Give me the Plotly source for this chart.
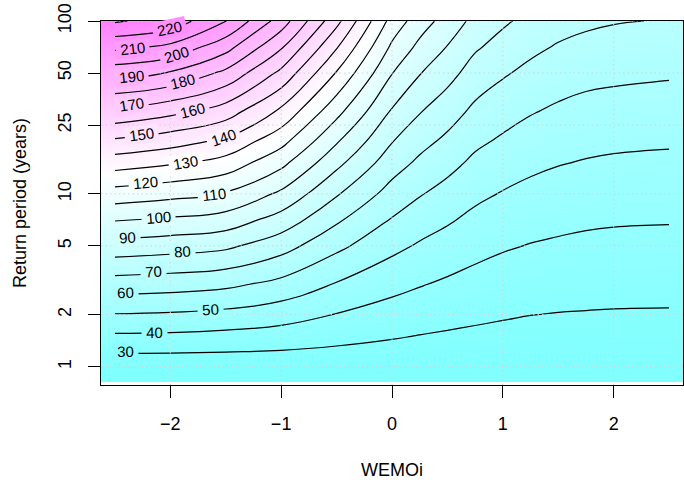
import numpy as np
import plotly.graph_objects as go

# Covariate grid (WEMOi index) and return periods (years)
wemoi = [-2.5, -2.0, -1.5, -1.0, -0.5, 0.0, 0.25, 0.5, 0.75, 1.0, 1.25, 1.5, 1.75, 2.0, 2.5]
return_period = [1, 1.5, 2, 3, 5, 7, 10, 15, 20, 30, 50, 70, 100]

# Return level table: one row per return period, one column per WEMOi value
return_level = [
    [23.3, 23.3, 23.4, 23.5, 23.6, 23.7, 23.6, 23.7, 23.6, 23.6, 23.5, 23.5, 23.4, 23.5, 23.5],
    [38.5, 38.2, 37.1, 35.6, 33.0, 30.7, 29.7, 28.9, 28.3, 27.8, 27.3, 27.1, 27.0, 26.9, 26.9],
    [49.5, 48.8, 47.2, 44.3, 39.6, 35.8, 34.2, 32.9, 31.7, 30.8, 30.1, 29.7, 29.5, 29.3, 29.2],
    [65.3, 64.2, 62.2, 57.1, 49.3, 43.1, 40.6, 38.5, 36.6, 35.2, 34.2, 33.7, 33.2, 33.0, 32.8],
    [86.1, 84.4, 82.0, 74.1, 62.4, 52.6, 48.9, 46.0, 43.1, 41.0, 39.6, 38.7, 38.0, 37.7, 37.4],
    [100.2, 98.1, 95.2, 85.6, 71.3, 59.1, 54.6, 51.0, 47.4, 45.1, 43.2, 42.2, 41.3, 40.8, 40.5],
    [115.8, 113.1, 109.4, 98.1, 81.0, 66.1, 60.7, 56.5, 52.2, 49.4, 47.3, 46.0, 45.1, 44.5, 44.0],
    [134.3, 130.8, 125.8, 112.5, 92.5, 74.4, 67.9, 63.0, 57.8, 54.7, 52.1, 50.4, 49.3, 48.6, 48.0],
    [147.9, 143.8, 137.7, 123.0, 100.8, 80.3, 73.1, 67.7, 61.9, 58.4, 55.6, 53.7, 52.5, 51.7, 51.0],
    [167.8, 162.8, 155.0, 138.0, 113.1, 89.0, 80.6, 74.5, 67.8, 64.0, 60.7, 58.4, 57.1, 56.2, 55.4],
    [194.1, 189.3, 177.7, 157.6, 129.3, 100.3, 90.5, 83.4, 75.7, 71.1, 67.5, 64.8, 62.7, 62.1, 61.1],
    [211.9, 207.1, 193.3, 170.8, 140.5, 108.0, 97.3, 89.4, 81.1, 76.3, 72.1, 69.0, 67.2, 66.2, 65.2],
    [231.1, 226.2, 210.3, 185.3, 153.0, 116.4, 104.7, 96.0, 87.2, 81.5, 77.2, 73.9, 71.8, 70.6, 69.5],
]

# Contour levels and where each label sits along its line (WEMOi units)
levels = list(range(30, 230, 10))
label_x = [-2.40, -2.14, -1.64, -2.40, -2.15, -1.89, -2.39, -2.11, -1.61, -2.22,
           -1.86, -1.52, -2.26, -1.80, -2.35, -1.89, -2.35, -1.94, -2.34, -2.01]

x_ticks = [-2, -1, 0, 1, 2]
y_ticks = [1, 2, 5, 10, 25, 50, 100]
y_ticktext = ["1", "2", "5", "10", "25", "50", "100"]

X_RANGE = [-2.625, 2.625]
Y_RANGE = [0.784, 100]
Z_MIN, Z_MAX = 23.0, 232.0
FONT = "Liberation Sans, Arial, Helvetica, sans-serif"

W, H = 684, 480
M = dict(l=101, r=1, t=21, b=95)
px_per_x = (W - M["l"] - M["r"]) / (X_RANGE[1] - X_RANGE[0])
px_per_dec = (H - M["t"] - M["b"]) / (np.log10(Y_RANGE[1]) - np.log10(Y_RANGE[0]))

# cm.colors style palette: cyan -> white -> magenta
cm_scale = [[0.0, "#80FFFF"], [0.5, "#FFFFFF"], [1.0, "#FF80FF"]]


def cm_color(z):
    t = min(max((z - Z_MIN) / (Z_MAX - Z_MIN), 0.0), 1.0)
    if t < 0.5:
        r = 128 + 127 * (t / 0.5)
        return "rgb(%d,255,255)" % round(r)
    g = 255 - 127 * ((t - 0.5) / 0.5)
    return "rgb(255,%d,255)" % round(g)


zt = np.array(return_level, dtype=float)
xs = np.array(wemoi, dtype=float)
ts = np.array(return_period, dtype=float)


def period_at(level, xv):
    col = np.array([np.interp(xv, xs, row) for row in zt])
    return float(np.interp(level, col, ts))


fig = go.Figure()

# colour image of the return level surface
fig.add_trace(go.Heatmap(
    x=wemoi, y=return_period, z=return_level,
    colorscale=cm_scale, zmin=Z_MIN, zmax=Z_MAX, zsmooth="best",
    showscale=False, hoverinfo="skip",
))

# contour lines on top
fig.add_trace(go.Contour(
    x=wemoi, y=return_period, z=return_level,
    contours=dict(start=30, end=230, size=10, coloring="none", showlabels=False),
    line=dict(color="black", width=1.2, smoothing=1.3),
    showscale=False, hoverinfo="skip",
))

# dotted reference grid at the tick positions
gx, gy = [], []
for v in x_ticks:
    gx += [v, v, None]
    gy += [Y_RANGE[0], Y_RANGE[1], None]
for v in y_ticks:
    gx += [X_RANGE[0], X_RANGE[1], None]
    gy += [v, v, None]
fig.add_trace(go.Scatter(
    x=gx, y=gy, mode="lines", hoverinfo="skip", showlegend=False,
    line=dict(color="#D3D3D3", width=1, dash="1.5px,3px"),
))

# contour labels, rotated along the line and set on the local fill colour
for lev, xv in zip(levels, label_x):
    t0 = period_at(lev, xv)
    t1 = period_at(lev, xv - 0.06)
    t2 = period_at(lev, xv + 0.06)
    dy = (np.log10(t2) - np.log10(t1)) * px_per_dec
    dx = 0.12 * px_per_x
    ang = -np.degrees(np.arctan2(dy, dx))
    fig.add_annotation(
        x=xv, y=np.log10(t0), xref="x", yref="y",
        text="\u00a0" + str(lev) + "\u00a0",
        showarrow=False, textangle=ang, bgcolor=cm_color(lev), borderpad=0,
        font=dict(family=FONT, size=15, color="black"),
        xanchor="center", yanchor="middle",
    )

fig.add_annotation(
    x=0.5, y=-(470 - 385) / 364, xref="paper", yref="paper", text="WEMOi",
    showarrow=False, font=dict(family=FONT, size=18, color="black"),
    xanchor="center", yanchor="middle",
)
fig.add_annotation(
    x=(20 - 101) / 582, y=0.5, xref="paper", yref="paper", text="Return period (years)",
    showarrow=False, textangle=-90, font=dict(family=FONT, size=18, color="black"),
    xanchor="center", yanchor="middle",
)

fig.update_xaxes(
    range=X_RANGE, tickvals=x_ticks, ticks="outside", ticklen=12, tickwidth=1,
    tickcolor="black", showline=True, mirror=True, linecolor="black", linewidth=1,
    showgrid=False, zeroline=False, ticklabelstandoff=10,
    tickfont=dict(family=FONT, size=18, color="black"),
)
fig.update_yaxes(
    type="log", range=[np.log10(Y_RANGE[0]), np.log10(Y_RANGE[1])],
    tickvals=y_ticks, ticktext=y_ticktext, tickangle=-90,
    ticks="outside", ticklen=12, tickwidth=1, tickcolor="black",
    showline=True, mirror=True, linecolor="black", linewidth=1,
    showgrid=False, zeroline=False, ticklabelstandoff=10,
    tickfont=dict(family=FONT, size=18, color="black"),
)
fig.update_layout(
    width=W, height=H, margin=M, paper_bgcolor="white", plot_bgcolor="white",
    showlegend=False,
)

fig.write_html("out.html")
